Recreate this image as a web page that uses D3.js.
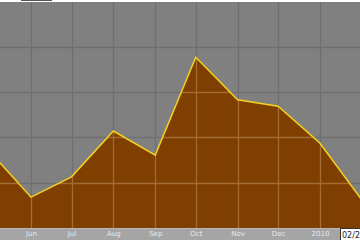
<!DOCTYPE html>
<html><head><meta charset="utf-8">
<script src="https://cdn.jsdelivr.net/npm/d3@7"></script>
<style>html,body{margin:0;padding:0;background:#fff;overflow:hidden}</style>
</head><body>
<svg id="c" width="360" height="240"></svg>
<script>
const dates = ["2009-05-01","2009-06-01","2009-07-01","2009-08-01","2009-09-01","2009-10-01","2009-11-01","2009-12-01","2010-01-01","2010-02-01"];
const values = [17.0, 6.8, 11.3, 21.4, 16.1, 37.7, 28.3, 26.9, 18.7, 6.2];
const tickLabels = ["Jun","Jul","Aug","Sep","Oct","Nov","Dec","2010"];
const yTicks = [10, 20, 30, 40, 50];
const cursorLabel = "02/28";

const parse = d3.timeParse("%Y-%m-%d");
const data = dates.map((d,i)=>({date:parse(d), v:values[i]}));

const W=360, H=240, plotTop=2, plotBottom=228;
const x = d3.scaleTime()
  .domain([parse("2009-06-01"), parse("2010-01-01")])
  .range([31, 320]);
const y = d3.scaleLinear().domain([0, 50]).range([plotBottom, 1.5]);

const svg = d3.select("#c");
svg.append("rect").attr("x",0).attr("y",0).attr("width",W).attr("height",plotTop).attr("fill","#ffffff");
svg.append("rect").attr("x",21).attr("y",0).attr("width",31).attr("height",1).attr("fill","#555");
svg.append("rect").attr("x",0).attr("y",plotTop).attr("width",W).attr("height",plotBottom-plotTop).attr("fill","#808080");

const tickDates = d3.timeMonth.range(parse("2009-06-01"), parse("2010-01-02"));

function grid(g, color) {
  g.selectAll("line.v").data(tickDates).join("line").attr("class","v")
    .attr("x1",d=>Math.round(x(d))+0.5).attr("x2",d=>Math.round(x(d))+0.5)
    .attr("y1",plotTop).attr("y2",plotBottom).attr("stroke",color).attr("stroke-width",1.3);
  g.selectAll("line.h").data(yTicks.slice(0,4)).join("line").attr("class","h")
    .attr("x1",0).attr("x2",W)
    .attr("y1",d=>Math.round(y(d))+0.5).attr("y2",d=>Math.round(y(d))+0.5)
    .attr("stroke",color).attr("stroke-width",1.3);
}
const g1 = svg.append("g"); grid(g1, "#6f6f6f");

const area = d3.area().x(d=>x(d.date)).y0(plotBottom).y1(d=>y(d.v));
const line = d3.line().x(d=>x(d.date)).y(d=>y(d.v));

svg.append("clipPath").attr("id","ac").append("path").attr("d", area(data));
svg.append("path").attr("d", area(data)).attr("fill","#7f3f00");
const g2 = svg.append("g").attr("clip-path","url(#ac)"); grid(g2, "#a26c34");
svg.append("path").attr("d", line(data)).attr("fill","none")
  .attr("stroke","#f2d21e").attr("stroke-width",1.5).attr("stroke-linejoin","miter");

svg.append("rect").attr("x",0).attr("y",plotBottom).attr("width",W).attr("height",H-plotBottom).attr("fill","#a5a5a5");
svg.append("line").attr("x1",0).attr("x2",W).attr("y1",plotBottom+0.5).attr("y2",plotBottom+0.5).attr("stroke","#b8b8b8");

const axis = d3.axisBottom(x).tickValues(tickDates).tickSize(0).tickPadding(0)
  .tickFormat((d,i)=>tickLabels[i]);
const ag = svg.append("g").attr("transform",`translate(0,${plotBottom+3})`).call(axis);
ag.select(".domain").remove();
ag.selectAll("text").attr("fill","#e8e8e8").attr("font-family","DejaVu Sans, sans-serif").attr("font-size","7px");

svg.append("rect").attr("x",340.5).attr("y",plotBottom+0.5).attr("width",22).attr("height",12).attr("fill","#ffffff").attr("stroke","#333");
svg.append("text").attr("x",342).attr("y",plotBottom+9.5).attr("fill","#222")
  .attr("font-family","DejaVu Sans, sans-serif").attr("font-size","8px").text(cursorLabel);
</script>
</body></html>
